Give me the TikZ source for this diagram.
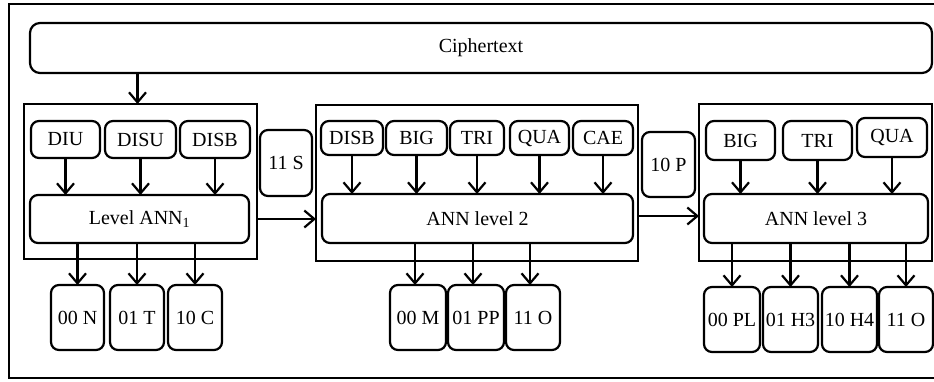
\documentclass[tikz,border=0pt]{standalone}
\usepackage{fontspec}
\setmainfont{Liberation Serif}
\usetikzlibrary{arrows.meta,calc}
\begin{document}
\begin{tikzpicture}[x=1pt,y=-1pt,
  every node/.style={font=\fontsize{20}{22}\selectfont, inner sep=0pt, outer sep=0pt},
  rbox/.style={draw, line width=2.2pt, rounded corners=8pt},
  grp/.style={draw, line width=2.2pt},
  arr/.style={line width=2.2pt, -{Straight Barb[length=10pt,width=17pt,line width=2.2pt]}},
  plain/.style={line width=2.2pt}]
\useasboundingbox (0,0) rectangle (934,381);
\draw[plain] (936,4) -- (9,4) -- (9,378) -- (936,378);
% top
\node[rbox, rounded corners=10pt, minimum width=902pt, minimum height=50pt] (cipher) at (481,48) {Ciphertext};
% group boxes
\node[grp, minimum width=233pt, minimum height=155pt] (g1) at (140.5,181.5) {};
\node[grp, minimum width=322pt, minimum height=156pt] (g2) at (477,183) {};
\node[grp, minimum width=233pt, minimum height=157pt] (g3) at (815.5,182.5) {};
% group 1
\node[rbox, minimum width=69pt, minimum height=37pt] (diu) at (65.5,139.5) {DIU};
\node[rbox, minimum width=71pt, minimum height=37pt] (disu) at (140.5,139.5) {DISU};
\node[rbox, minimum width=70pt, minimum height=37pt] (disba) at (215,139.5) {DISB};
\node[rbox, minimum width=219pt, minimum height=48pt] (l1) at (139.5,219) {Level ANN\textsubscript{1}};
\node[rbox, minimum width=53pt, minimum height=65pt] (n) at (77.5,317.5) {00 N};
\node[rbox, minimum width=54pt, minimum height=65pt] (t) at (137,317.5) {01 T};
\node[rbox, minimum width=54pt, minimum height=65pt] (c) at (195,317.5) {10 C};
\node[rbox, minimum width=52pt, minimum height=66pt] (s) at (286,163) {11 S};
% group 2
\node[rbox, minimum width=62pt, minimum height=34pt] (disbb) at (352,138) {DISB};
\node[rbox, minimum width=61pt, minimum height=34pt] (biga) at (416.5,138) {BIG};
\node[rbox, minimum width=54pt, minimum height=34pt] (tria) at (477,138) {TRI};
\node[rbox, minimum width=59pt, minimum height=34pt] (quaa) at (539.5,138) {QUA};
\node[rbox, minimum width=60pt, minimum height=34pt] (cae) at (603,138) {CAE};
\node[rbox, minimum width=311pt, minimum height=49pt] (l2) at (477.5,218.5) {ANN level 2};
\node[rbox, minimum width=56pt, minimum height=65pt] (m) at (418,317.5) {00 M};
\node[rbox, minimum width=56pt, minimum height=65pt] (pp) at (476,317.5) {01 PP};
\node[rbox, minimum width=54pt, minimum height=65pt] (oa) at (533,317.5) {11 O};
\node[rbox, minimum width=53pt, minimum height=65pt] (p) at (668.5,164.5) {10 P};
% group 3
\node[rbox, minimum width=69pt, minimum height=39pt] (bigb) at (740.5,140.5) {BIG};
\node[rbox, minimum width=69pt, minimum height=39pt] (trib) at (817.5,140.5) {TRI};
\node[rbox, minimum width=70pt, minimum height=39pt] (quab) at (892,137.5) {QUA};
\node[rbox, minimum width=224pt, minimum height=49pt] (l3) at (816,218.5) {ANN level 3};
\node[rbox, minimum width=56pt, minimum height=65pt] (pl) at (732,319.5) {00 PL};
\node[rbox, minimum width=55pt, minimum height=65pt] (h3) at (790.5,319.5) {01 H3};
\node[rbox, minimum width=55pt, minimum height=65pt] (h4) at (849.5,319.5) {10 H4};
\node[rbox, minimum width=54pt, minimum height=65pt] (ob) at (906,319.5) {11 O};
% connectors
\draw[arr] ($(cipher.south -| g1.north)+(-3,0)$) -- ($(g1.north)+(-3,0)$);
\foreach \b in {diu,disu,disba} \draw[arr] (\b.south) -- (\b.south |- l1.north);
\foreach \b in {n,t,c} \draw[arr] (l1.south -| \b.north) -- (\b.north);
\draw[arr] (l1 -| g1.east) -- (l1 -| g2.west);
\foreach \b in {disbb,biga,tria,quaa,cae} \draw[arr] (\b.south) -- (\b.south |- l2.north);
\foreach \b in {m,pp,oa} \draw[arr] ($(l2.south -| \b.north)+(-3,0)$) -- ($(\b.north)+(-3,0)$);
\draw[arr] ($(l2.east -| g2.east)+(0,-2.5)$) -- ($(l2.east -| g3.west)+(0,-2.5)$);
\foreach \b in {bigb,trib,quab} \draw[arr] (\b.south) -- (\b.south |- l3.north);
\foreach \b in {pl,h3,h4,ob} \draw[arr] (l3.south -| \b.north) -- (\b.north);
\end{tikzpicture}
\end{document}
